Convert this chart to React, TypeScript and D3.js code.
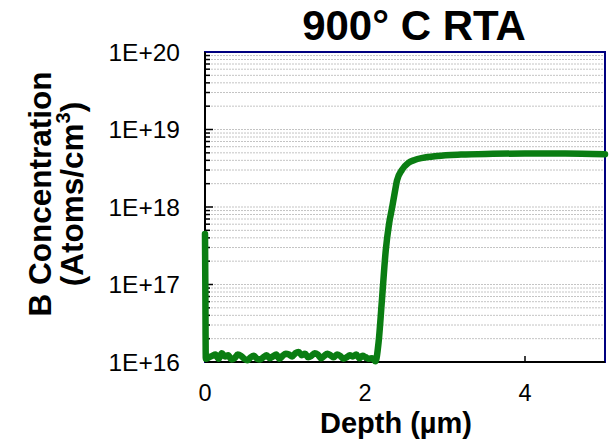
import React from "react";
import * as d3 from "d3";

const depth: number[] = [
  0, 0.004, 0.01, 0.05, 0.09, 0.13, 0.17, 0.21, 0.25, 0.29, 0.33, 0.37, 0.41, 0.45, 0.49, 0.53, 0.57,
  0.61, 0.65, 0.69, 0.73, 0.77, 0.81, 0.85, 0.89, 0.93, 0.97, 1.01, 1.05, 1.09, 1.13, 1.17, 1.21,
  1.25, 1.29, 1.33, 1.37, 1.41, 1.45, 1.49, 1.53, 1.57, 1.61, 1.65, 1.69, 1.73, 1.77, 1.81, 1.85,
  1.89, 1.93, 1.97, 2.01, 2.05, 2.09, 2.13, 2.17, 2.21, 2.26, 2.3, 2.34, 2.37, 2.4, 2.46, 2.54,
  2.62, 2.72, 2.9, 3.2, 3.6, 4.0, 4.5, 5.0,
];
const conc: number[] = [
  4.5e17, 1.0e17, 1.1e16, 1.15e16, 1.2e16, 1.25e16, 1.1e16, 1.3e16, 1.18e16, 1.22e16, 1.08e16, 1.12e16,
  1.25e16, 1.2e16, 1.1e16, 1.05e16, 1.15e16, 1.2e16, 1.1e16, 1.08e16, 1.15e16, 1.22e16, 1.12e16,
  1.18e16, 1.25e16, 1.1e16, 1.2e16, 1.28e16, 1.25e16, 1.18e16, 1.3e16, 1.35e16, 1.22e16, 1.28e16,
  1.15e16, 1.2e16, 1.3e16, 1.25e16, 1.12e16, 1.2e16, 1.28e16, 1.22e16, 1.15e16, 1.25e16, 1.2e16,
  1.1e16, 1.15e16, 1.22e16, 1.18e16, 1.25e16, 1.12e16, 1.2e16, 1.15e16, 1.1e16, 1.12e16, 1.02e16,
  1.8e16, 6e16, 2.8e17, 6e17, 1.0e18, 1.5e18, 2.2e18, 3.0e18, 3.7e18, 4.05e18, 4.3e18, 4.55e18,
  4.75e18, 4.85e18, 4.9e18, 4.9e18, 4.8e18,
];
const xTicks: number[] = [0, 2, 4];
const yTicks: number[] = [1e16, 1e17, 1e18, 1e19, 1e20];
const yTickLabels: string[] = ["1E+16", "1E+17", "1E+18", "1E+19", "1E+20"];
const title = "900° C RTA";
const xLabel = "Depth (µm)";

export default function App() {
  const left = 205, right = 605, top = 52, bottom = 362;
  const x = d3.scaleLinear().domain([0, 5]).range([left, right]);
  const y = d3.scaleLog().domain([1e16, 1e20]).range([bottom, top]);
  const minor: number[] = [];
  for (let e = 16; e < 20; e++) for (let m = 2; m <= 9; m++) minor.push(m * Math.pow(10, e));
  const line = d3
    .line<number>()
    .x((_, i) => x(depth[i]))
    .y((d) => y(d))
    .curve(d3.curveMonotoneX);
  const font = "'Liberation Sans', Arial, sans-serif";
  return (
    <svg width={616} height={444} style={{ position: "absolute", left: 0, top: 0, background: "#fff" }} fontFamily={font}>
      {minor.concat([1e17, 1e18, 1e19]).map((v, i) => (
        <line key={"g" + i} x1={left} x2={right} y1={y(v)} y2={y(v)} stroke="#c4c4c4" strokeWidth={1} strokeDasharray="2,1" />
      ))}
      {minor.map((v, i) => (
        <line key={"mt" + i} x1={left} x2={left + 5} y1={y(v)} y2={y(v)} stroke="#000" strokeWidth={1.5} />
      ))}
      {yTicks.map((v, i) => (
        <line key={"yt" + i} x1={left} x2={left + 8} y1={y(v)} y2={y(v)} stroke="#000" strokeWidth={1.5} />
      ))}
      {xTicks.slice(1).map((v, i) => (
        <line key={"xt" + i} x1={x(v)} x2={x(v)} y1={bottom} y2={bottom - 6} stroke="#000" strokeWidth={1.5} />
      ))}
      <rect x={left} y={top} width={right - left} height={bottom - top} fill="none" stroke="#000080" strokeWidth={2} />
      <line x1={left} x2={left} y1={top} y2={bottom} stroke="#000" strokeWidth={2} />
      <line x1={left} x2={right} y1={bottom} y2={bottom} stroke="#000" strokeWidth={2} />
      <path d={line(conc) || ""} fill="none" stroke="#0a7d12" strokeWidth={6.5} strokeLinejoin="round" strokeLinecap="round" />
      {yTicks.map((v, i) => (
        <text key={"yl" + i} x={180} y={y(v)} dy="0.36em" textAnchor="end" fontSize={24.5} fill="#000">
          {yTickLabels[i]}
        </text>
      ))}
      {xTicks.map((v, i) => (
        <text key={"xl" + i} x={x(v)} y={401} textAnchor="middle" fontSize={23.5} fill="#000">
          {v}
        </text>
      ))}
      <text x={414} y={40} textAnchor="middle" fontSize={42} fontWeight="bold" fill="#000">
        {title}
      </text>
      <text x={396} y={433} textAnchor="middle" fontSize={29} fontWeight="bold" fill="#000">
        {xLabel}
      </text>
      <g transform="translate(51,194) rotate(-90)">
        <text x={0} y={0} textAnchor="middle" fontSize={31.5} fontWeight="bold" fill="#000">
          B Concentration
        </text>
        <text x={0} y={32} textAnchor="middle" fontSize={31.5} fontWeight="bold" fill="#000">
          (Atoms/cm<tspan fontSize={20} dy={-13}>3</tspan><tspan dy={13}>)</tspan>
        </text>
      </g>
    </svg>
  );
}
